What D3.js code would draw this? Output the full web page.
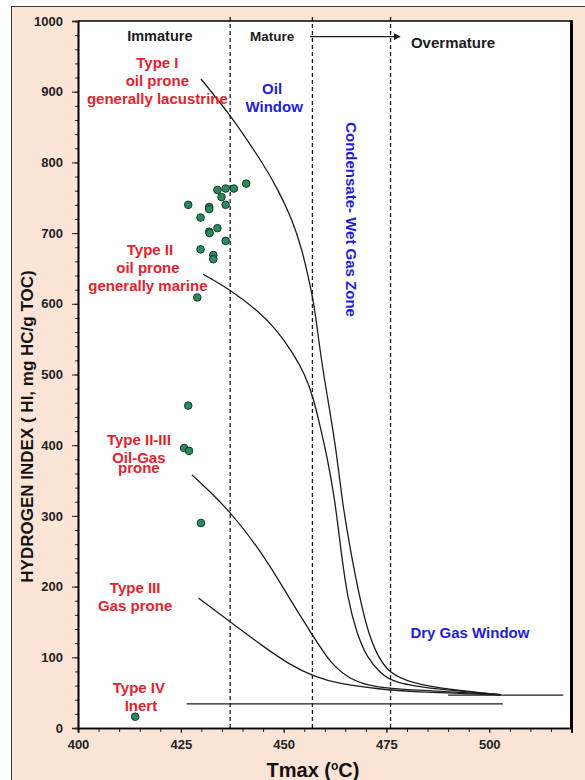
<!DOCTYPE html>
<html>
<head>
<meta charset="utf-8">
<script src="https://cdn.jsdelivr.net/npm/d3@7"></script>
<style>
  html, body { margin: 0; padding: 0; background: #ffffff; }
  svg { display: block; }
  text { font-family: Arial, "Liberation Sans", sans-serif; }
</style>
</head>
<body>
<svg id="chart" width="585" height="780"></svg>
<script>
// ---- Data -------------------------------------------------------------
// Sample points: [Tmax (°C), HI (mg HC/g TOC)]
const samples = [
  [433.9, 761], [435.9, 763], [437.9, 763], [440.9, 770], [434.9, 751],
  [431.9, 737], [431.9, 734], [435.9, 740], [426.8, 740], [429.8, 722],
  [431.9, 702], [432.0, 700], [433.9, 707], [435.9, 689], [429.8, 677],
  [432.9, 669], [432.9, 663], [429.0, 609],
  [426.8, 456], [425.8, 396], [427.0, 392], [429.9, 290],
  [413.9, 16]
];

// Kerogen maturation pathways
const typeI = [
  [429.9, 918], [437.0, 867], [440.6, 836], [444.8, 800], [448.7, 761],
  [452.1, 719], [454.5, 676], [456.0, 638], [457.2, 605], [457.9, 577],
  [459.4, 511], [460.8, 464], [462.8, 393], [464.2, 322], [466.2, 252],
  [468.6, 181], [470.6, 134], [473.0, 100], [475.7, 78], [480.8, 64],
  [490.5, 54], [502.7, 47]
];
const typeII = [
  [430.4, 642], [437.0, 620], [443.6, 591], [448.4, 563], [452.3, 530],
  [455.2, 500], [457.2, 468], [458.9, 426], [460.6, 383], [462.5, 322],
  [463.9, 252], [465.6, 181], [467.8, 134], [470.2, 100], [473.5, 78],
  [476.6, 64], [488.1, 54], [502.7, 47]
];
const typeIIIII = [
  [427.7, 358], [437.0, 308], [445.9, 238], [451.6, 181], [457.3, 129],
  [461.3, 92], [466.2, 68], [471.8, 58], [480.8, 54], [502.7, 47]
];
const typeIII = [
  [429.3, 184], [437.0, 150], [445.1, 115], [451.6, 89], [457.3, 73],
  [463.7, 62], [473.5, 55], [480.8, 51], [502.7, 47]
];
const typeIV = [[426.4, 34], [503.3, 34]];
const dryGasTail = [[490, 46.5], [518, 46.5]];

// Maturity boundaries (Tmax °C)
const maturityBounds = [437, 457, 476];
const arrowSpan = [[456.4, 978], [478.3, 978]];

// Axis ticks
const xTickLabels = [400, 425, 450, 475, 500];
const yTickLabels = [0, 100, 200, 300, 400, 500, 600, 700, 800, 900, 1000];

// Annotations [text, Tmax, HI]
const zoneLabels = [
  ["Immature", 419.9, 979],
  ["Mature", 447.2, 979],
  ["Overmature", 491.2, 969]
];
const kerogenLabels = [
  ["Type I", 419.3, 940.6],
  ["oil prone", 419.3, 915.1],
  ["generally lacustrine", 419.3, 889.7],
  ["Type II", 417.5, 676.1],
  ["oil prone", 417.0, 650.6],
  ["generally marine", 417.0, 625.2],
  ["Type II-III", 414.8, 407.4],
  ["Oil-Gas", 414.8, 381.9],
  ["prone", 414.8, 368.2],
  ["Type III", 413.9, 198.0],
  ["Gas prone", 413.9, 172.6],
  ["Type IV", 414.8, 56.6],
  ["Inert", 415.3, 31.1]
];
const windowLabels = [
  ["Oil", 447.2, 903.8],
  ["Window", 447.7, 878.4],
  ["Dry Gas Window", 495.3, 134.4]
];
const condensateLabel = ["Condensate- Wet Gas Zone", 466.4, 719.2];

// ---- Layout -----------------------------------------------------------
const svg = d3.select("#chart");
const plot = { left: 78, right: 571.5, top: 21, bottom: 728 };

const x = d3.scaleLinear().domain([400, 520]).range([plot.left, plot.right]);
const y = d3.scaleLinear().domain([0, 1000]).range([plot.bottom, plot.top]);

const RED = "#e5232b";
const BLUE = "#1e1ed8";
const INK = "#1c1c1c";

// Outer panel
svg.append("rect")
  .attr("x", 11.5).attr("y", 6.5).attr("width", 600).attr("height", 800)
  .attr("fill", "#fce4d6").attr("stroke", "#3a3a3a").attr("stroke-width", 1);

// Plot area
svg.append("rect")
  .attr("x", plot.left).attr("y", plot.top)
  .attr("width", plot.right - plot.left).attr("height", plot.bottom - plot.top)
  .attr("fill", "#ffffff");

svg.append("defs").append("marker")
  .attr("id", "arrowHead")
  .attr("viewBox", "0 0 10 10").attr("refX", 9).attr("refY", 5)
  .attr("markerWidth", 7).attr("markerHeight", 7)
  .attr("markerUnits", "userSpaceOnUse")
  .attr("orient", "auto")
  .append("path").attr("d", "M0,0 L10,5 L0,10 Z").attr("fill", INK);

// Maturity boundaries
svg.append("g").selectAll("line").data(maturityBounds).join("line")
  .attr("x1", d => x(d)).attr("x2", d => x(d))
  .attr("y1", y(1000) - 4).attr("y2", y(0))
  .attr("stroke", INK).attr("stroke-width", 1.3)
  .attr("stroke-dasharray", "4,3");

// Arrow into overmature zone
svg.append("line")
  .attr("x1", x(arrowSpan[0][0])).attr("y1", y(arrowSpan[0][1]))
  .attr("x2", x(arrowSpan[1][0])).attr("y2", y(arrowSpan[1][1]))
  .attr("stroke", INK).attr("stroke-width", 1.2)
  .attr("marker-end", "url(#arrowHead)");

// Pathways
const line = d3.line().x(d => x(d[0])).y(d => y(d[1])).curve(d3.curveBasis);
const paths = [typeI, typeII, typeIIIII, typeIII, typeIV, dryGasTail];
svg.append("g").selectAll("path").data(paths).join("path")
  .attr("d", line)
  .attr("fill", "none").attr("stroke", INK).attr("stroke-width", 1.3);

// Samples
svg.append("g").selectAll("circle").data(samples).join("circle")
  .attr("cx", d => x(d[0])).attr("cy", d => y(d[1])).attr("r", 3.8)
  .attr("fill", "#2a8a5c").attr("stroke", "#14382a").attr("stroke-width", 1);

// Text annotations
svg.append("g").selectAll("text").data(zoneLabels).join("text")
  .attr("x", d => x(d[1])).attr("y", d => y(d[2]))
  .attr("dy", "0.35em").attr("text-anchor", "middle")
  .attr("font-size", (d, i) => i === 1 ? 13.5 : (i === 0 ? 14.5 : 15))
  .attr("font-weight", "bold").attr("fill", INK)
  .text(d => d[0]);

svg.append("g").selectAll("text").data(kerogenLabels).join("text")
  .attr("x", d => x(d[1])).attr("y", d => y(d[2]))
  .attr("dy", "0.35em").attr("text-anchor", "middle")
  .attr("font-size", 15).attr("font-weight", "bold").attr("fill", RED)
  .text(d => d[0]);

svg.append("g").selectAll("text").data(windowLabels).join("text")
  .attr("x", d => x(d[1])).attr("y", d => y(d[2]))
  .attr("dy", "0.35em").attr("text-anchor", "middle")
  .attr("font-size", 15).attr("font-weight", "bold").attr("fill", BLUE)
  .text(d => d[0]);

svg.append("text")
  .attr("transform", `translate(${x(condensateLabel[1])},${y(condensateLabel[2])}) rotate(90)`)
  .attr("dy", "0.35em").attr("text-anchor", "middle")
  .attr("font-size", 15).attr("font-weight", "bold").attr("fill", BLUE)
  .text(condensateLabel[0]);

// ---- Axes ---------------------------------------------------------------
function styleAxis(g) {
  g.selectAll("path.domain").attr("stroke", "#000").attr("stroke-width", 1.6);
  g.selectAll(".tick line").attr("stroke", "#222").attr("stroke-width", 1);
  g.selectAll(".tick text")
    .attr("font-family", "Arial, 'Liberation Sans', sans-serif")
    .attr("font-size", 13).attr("font-weight", "bold").attr("fill", "#222");
}

// minor ticks
svg.append("g").attr("transform", `translate(0,${plot.bottom})`)
  .call(d3.axisBottom(x).tickValues(d3.range(400, 521, 5)).tickSize(4).tickFormat(""))
  .call(styleAxis);
svg.append("g").attr("transform", `translate(${plot.left},0)`)
  .call(d3.axisLeft(y).tickValues(d3.range(0, 1001, 20)).tickSize(3).tickFormat(""))
  .call(styleAxis);

// major ticks with labels
svg.append("g").attr("transform", `translate(0,${plot.bottom})`)
  .call(d3.axisBottom(x).tickValues(xTickLabels).tickSize(5).tickPadding(7).tickFormat(d3.format("d")))
  .call(styleAxis);
svg.append("g").attr("transform", `translate(${plot.left},0)`)
  .call(d3.axisLeft(y).tickValues(yTickLabels).tickSize(6).tickPadding(9).tickFormat(d3.format("d")))
  .call(styleAxis);

// Plot frame: top and right edges
svg.append("line")
  .attr("x1", plot.left).attr("x2", plot.right).attr("y1", plot.top).attr("y2", plot.top)
  .attr("stroke", "#000").attr("stroke-width", 1.6);
svg.append("line")
  .attr("x1", plot.right).attr("x2", plot.right).attr("y1", plot.top - 0.8).attr("y2", plot.bottom + 0.8)
  .attr("stroke", "#000").attr("stroke-width", 3);

// Axis titles
svg.append("text")
  .attr("transform", `translate(33,${(plot.top + plot.bottom) / 2 + 52}) rotate(-90)`)
  .attr("text-anchor", "middle")
  .attr("font-size", 17).attr("font-weight", "bold").attr("fill", "#111")
  .text("HYDROGEN INDEX ( HI, mg HC/g TOC)");

const xTitle = svg.append("text")
  .attr("x", 313).attr("y", 777)
  .attr("text-anchor", "middle")
  .attr("font-size", 20).attr("font-weight", "bold").attr("fill", "#111");
xTitle.append("tspan").text("Tmax (");
xTitle.append("tspan").attr("font-size", 12).attr("dy", -7).text("o");
xTitle.append("tspan").attr("dy", 7).text("C)");
</script>
</body>
</html>
